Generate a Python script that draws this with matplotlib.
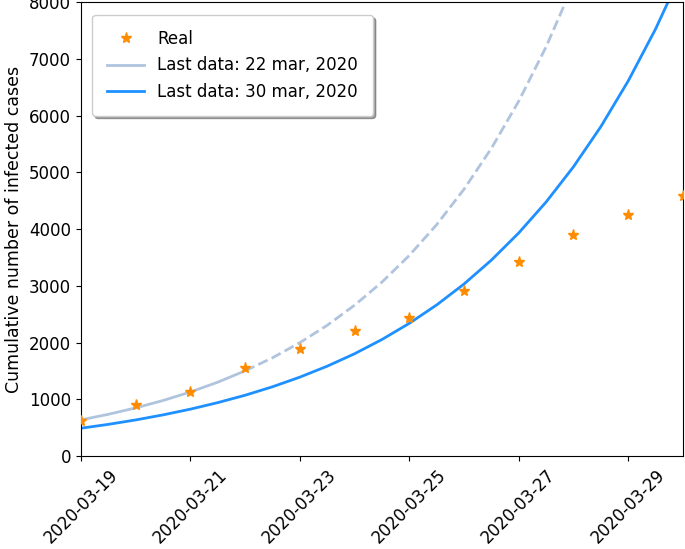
import numpy as np
import pandas as pd
import matplotlib
matplotlib.use("Agg")
import matplotlib.pyplot as plt
import matplotlib.dates as mdates

# observed cumulative cases
real_dates = pd.date_range("2020-03-19", "2020-03-30", freq="D")
real_cases = [621, 904, 1128, 1546, 1891, 2201, 2433, 2915, 3417, 3904, 4256, 4579]

# model with data up to 22 mar (half-day samples)
fit22_dates = pd.date_range("2020-03-19", periods=19, freq="12h")
fit22_cases = [640, 738, 851, 981, 1131, 1304, 1504, 1734, 2000, 2306,
               2660, 3067, 3537, 4079, 4704, 5425, 6256, 7214, 8319]
split_idx = 6  # 22 mar: solid before, dashed after

# model with data up to 30 mar
fit30_dates = pd.date_range("2020-03-19", periods=23, freq="12h")
fit30_cases = [493, 561, 639, 728, 829, 944, 1074, 1223, 1393, 1586, 1805, 2056,
               2341, 2665, 3034, 3455, 3934, 4479, 5100, 5807, 6612, 7528, 8571]

fig = plt.figure(figsize=(6.85, 5.49), dpi=100)
ax = fig.add_axes([0.118, 0.169, 0.879, 0.827])

c_real, c_22, c_30 = "#FF8C00", "#B0C4DE", "#1E90FF"

ax.plot(real_dates, real_cases, "*", color=c_real, ms=8, label="Real", zorder=3)
ax.plot(fit22_dates[:split_idx + 1], fit22_cases[:split_idx + 1], color=c_22, lw=2,
        label="Last data: 22 mar, 2020")
ax.plot(fit22_dates[split_idx:], fit22_cases[split_idx:], color=c_22, lw=2, ls="--")
ax.plot(fit30_dates, fit30_cases, color=c_30, lw=2, label="Last data: 30 mar, 2020")

ax.set_xlim(pd.Timestamp("2020-03-19"), pd.Timestamp("2020-03-30"))
ax.set_ylim(0, 8000)
ax.xaxis.set_major_locator(mdates.DayLocator(bymonthday=[19, 21, 23, 25, 27, 29]))
ax.xaxis.set_major_formatter(mdates.DateFormatter("%Y-%m-%d"))
plt.setp(ax.get_xticklabels(), rotation=45)
ax.tick_params(labelsize=12)
ax.set_ylabel("Cumulative number of infected cases", fontsize=12.5)

ax.legend(loc="upper left", fontsize=12, shadow=True, borderpad=0.9,
          handlelength=2.2, bbox_to_anchor=(0.005, 0.99))

fig.savefig("out.png", dpi=100, facecolor="white")
